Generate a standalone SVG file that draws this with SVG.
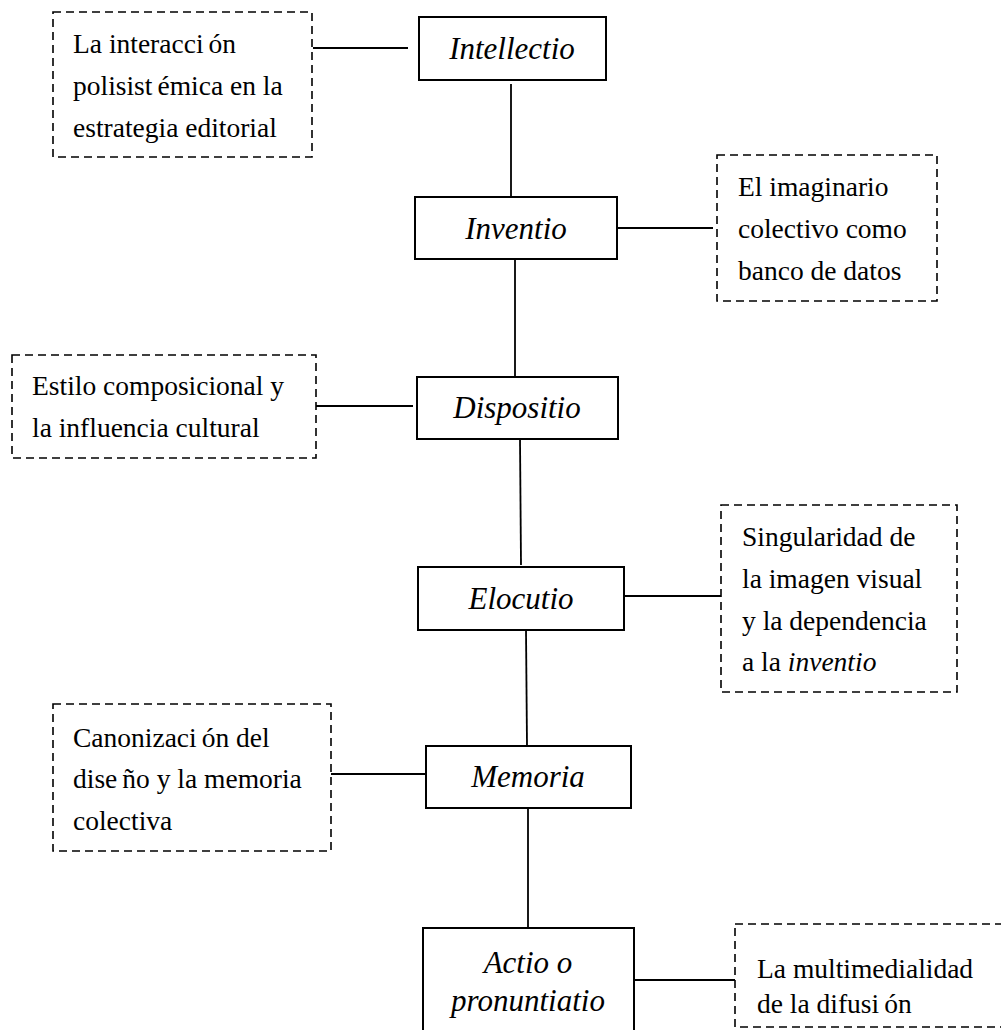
<svg xmlns="http://www.w3.org/2000/svg" width="1001" height="1030" viewBox="0 0 1001 1030" font-family="'Liberation Serif', Tinos, 'Times New Roman', 'DejaVu Serif', serif">
  <style>
    .stage { fill: #ffffff; stroke: #000000; stroke-width: 2; }
    .note { fill: #ffffff; stroke: #000000; stroke-width: 1.6; stroke-dasharray: 8 5; }
    .label { font-family: 'Liberation Serif', Tinos, 'Times New Roman', 'DejaVu Serif', serif; font-style: italic; font-size: 31px; fill: #000000; text-anchor: middle; }
    .body { font-family: 'Liberation Serif', Tinos, 'Times New Roman', 'DejaVu Serif', serif; font-size: 27.5px; fill: #000000; }
    .link { stroke: #000000; stroke-width: 1.8; fill: none; }
  </style>
  <rect width="1001" height="1030" fill="#ffffff"/>

  <!-- connectors -->
  <g id="connectors" class="link">
    <line x1="313" y1="48" x2="408" y2="48"/>
    <line x1="511" y1="84" x2="511" y2="197"/>
    <line x1="617" y1="228" x2="713" y2="228"/>
    <line x1="515" y1="259" x2="515" y2="376"/>
    <line x1="316" y1="406" x2="413" y2="406"/>
    <line x1="520" y1="439" x2="521" y2="565"/>
    <line x1="624" y1="596" x2="721" y2="596"/>
    <line x1="526" y1="630" x2="527" y2="746"/>
    <line x1="331" y1="774" x2="426" y2="774"/>
    <line x1="528" y1="808" x2="528" y2="927"/>
    <line x1="634" y1="980" x2="735" y2="980"/>
  </g>

  <!-- rhetorical stages -->
  <g id="intellectio">
    <rect class="stage" x="419" y="17" width="187" height="63"/>
    <text class="label" x="512" y="59">Intellectio</text>
  </g>
  <g id="inventio">
    <rect class="stage" x="415" y="197" width="202" height="62"/>
    <text class="label" x="516" y="239">Inventio</text>
  </g>
  <g id="dispositio">
    <rect class="stage" x="417" y="377" width="201" height="62"/>
    <text class="label" x="517" y="418">Dispositio</text>
  </g>
  <g id="elocutio">
    <rect class="stage" x="418" y="567" width="206" height="63"/>
    <text class="label" x="521" y="609">Elocutio</text>
  </g>
  <g id="memoria">
    <rect class="stage" x="426" y="746" width="205" height="62"/>
    <text class="label" x="528" y="787">Memoria</text>
  </g>
  <g id="actio">
    <rect class="stage" x="423" y="928" width="211" height="120"/>
    <text class="label" x="528" y="973">Actio o</text>
    <text class="label" x="528" y="1011">pronuntiatio</text>
  </g>

  <!-- notes -->
  <g id="note-intellectio">
    <rect class="note" x="53" y="12" width="259" height="145"/>
    <text class="body" x="73" y="53">La interacci<tspan dx="5">ó</tspan>n</text>
    <text class="body" x="73" y="95">polisist<tspan dx="5">é</tspan>mica en la</text>
    <text class="body" x="73" y="137">estrategia editorial</text>
  </g>
  <g id="note-inventio">
    <rect class="note" x="717" y="155" width="220" height="146"/>
    <text class="body" x="738" y="196">El imaginario</text>
    <text class="body" x="738" y="238">colectivo como</text>
    <text class="body" x="738" y="280">banco de datos</text>
  </g>
  <g id="note-dispositio">
    <rect class="note" x="12" y="355" width="304" height="103"/>
    <text class="body" x="32" y="395">Estilo composicional y</text>
    <text class="body" x="32" y="437">la influencia cultural</text>
  </g>
  <g id="note-elocutio">
    <rect class="note" x="721" y="505" width="236" height="187"/>
    <text class="body" x="742" y="546">Singularidad de</text>
    <text class="body" x="742" y="588">la imagen visual</text>
    <text class="body" x="742" y="630">y la dependencia</text>
    <text class="body" x="742" y="671">a la <tspan font-style="italic">inventio</tspan></text>
  </g>
  <g id="note-memoria">
    <rect class="note" x="53" y="704" width="278" height="147"/>
    <text class="body" x="73" y="747">Canonizaci<tspan dx="5">ó</tspan>n del</text>
    <text class="body" x="73" y="788">dise<tspan dx="5">ñ</tspan>o y la memoria</text>
    <text class="body" x="73" y="830">colectiva</text>
  </g>
  <g id="note-actio">
    <rect class="note" x="735" y="924" width="280" height="103"/>
    <text class="body" x="757" y="978">La multimedialidad</text>
    <text class="body" x="757" y="1013">de la difusi<tspan dx="5">ó</tspan>n</text>
  </g>
</svg>
